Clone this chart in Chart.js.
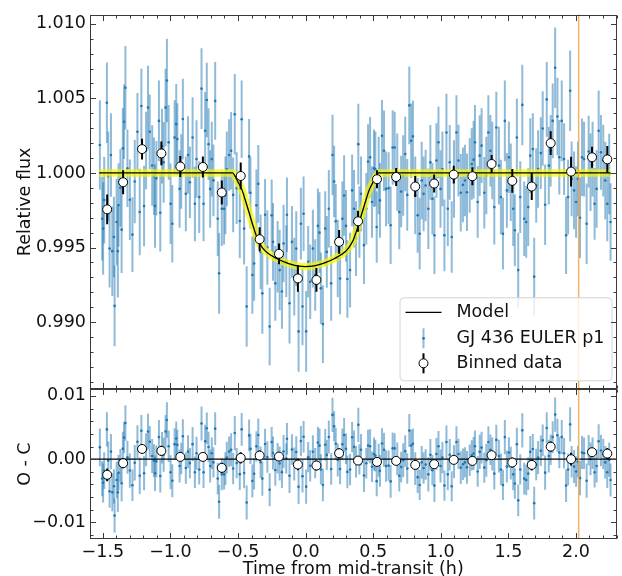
<!DOCTYPE html>
<html>
<head>
<meta charset="utf-8">
<title>GJ 436 EULER p1 transit</title>
<script src="https://cdn.jsdelivr.net/npm/chart.js@4.4.1/dist/chart.umd.min.js"></script>
<style>
  html, body { margin: 0; padding: 0; background: #fff; overflow: hidden; }
  canvas { display: block; }
</style>
</head>
<body>
<canvas id="lc" width="622" height="580"></canvas>
<script>
// light curve: hours from mid-transit, relative flux, 1-sigma error, residual (O - C)
const time = [
  -1.522,-1.505,-1.498,-1.490,-1.470,-1.460,-1.450,-1.440,-1.430,-1.418,
  -1.413,-1.398,-1.389,-1.384,-1.370,-1.361,-1.352,-1.343,-1.333,-1.318,
  -1.300,-1.281,-1.264,-1.244,-1.227,-1.215,-1.195,-1.180,-1.166,-1.153,
  -1.135,-1.122,-1.114,-1.104,-1.085,-1.075,-1.062,-1.050,-1.036,-1.026,
  -1.013,-0.999,-0.986,-0.969,-0.957,-0.949,-0.932,-0.920,-0.908,
  -0.886,-0.870,-0.856,-0.836,-0.819,-0.807,-0.787,-0.770,-0.755,-0.743,
  -0.731,-0.718,-0.706,-0.694,-0.682,-0.669,-0.650,-0.640,-0.620,-0.603,
  -0.593,-0.583,-0.566,-0.551,-0.536,-0.524,-0.510,-0.487,-0.473,-0.455,
  -0.436,-0.418,-0.408,-0.394,-0.381,-0.364,-0.350,-0.333,-0.320,-0.300,
  -0.283,-0.266,-0.251,
  -0.241,-0.224,-0.207,-0.192,-0.175,-0.163,-0.143,-0.138,-0.119,-0.101,
  -0.084,-0.069,-0.052,-0.035,-0.023,-0.015,0.004,0.019,0.034,0.054,
  0.071,0.091,0.103,0.113,0.128,0.145,0.157,0.172,0.189,0.199,
  0.211,0.223,0.238,0.255,0.272,0.285,0.299,0.309,0.329,0.344,
  0.358,0.373,0.390,
  0.398,0.410,0.432,0.449,0.462,0.477,0.491,0.506,0.516,0.526,
  0.541,0.550,0.565,0.580,0.595,0.614,0.629,0.644,0.659,0.678,
  0.693,0.707,0.722,0.737,0.752,0.767,0.781,0.794,0.811,0.829,
  0.844,0.859,0.873,0.888,0.908,0.923,0.938,0.953,0.968,0.983,
  0.998,1.012,1.027,1.042,1.052,
  1.066,1.081,1.098,1.116,1.131,1.148,1.164,1.179,1.194,1.214,
  1.229,1.243,1.253,1.273,1.288,1.302,1.322,1.337,1.352,1.367,
  1.381,1.396,1.411,1.430,1.445,1.460,1.474,1.489,1.504,1.518,
  1.536,1.548,1.563,1.573,1.588,1.603,1.617,1.632,1.647,1.662,
  1.681,1.691,
  1.706,1.720,1.740,1.754,1.772,1.784,1.799,1.813,1.828,1.846,
  1.863,1.877,1.895,1.912,1.927,1.942,1.957,1.968,1.986,2.001,
  2.015,2.030,2.045,2.060,2.079,2.094,2.108,2.123,2.138,2.153,
  2.168,2.185,2.202,2.217,2.232,2.246,2.256
];
const flux = [
  1.00187,0.99693,0.99627,0.99818,1.00471,0.99978,0.99493,1.00120,0.99476,0.99571,
  0.99109,0.99671,0.99476,0.99785,0.99900,0.99620,1.00165,1.00343,1.00571,1.00031,
  0.99820,0.99587,0.99943,1.00276,0.99738,1.00449,0.99778,1.00150,1.00438,1.00276,
  1.00050,0.99978,0.99778,0.99965,1.00349,0.99733,1.00180,1.00071,1.00438,1.00620,
  1.00205,0.99793,0.99660,1.00238,1.00327,1.00227,0.99893,1.00010,1.00362,
  0.99860,1.00120,0.99938,1.00238,0.99793,1.00093,0.99838,1.00565,0.99793,1.00283,
  1.00489,1.00193,0.99893,1.00093,0.99950,1.00483,0.99693,0.99327,0.99760,0.99760,
  0.99850,1.00027,1.00120,1.00149,0.99853,1.00393,0.99898,0.99678,1.00360,0.99627,
  0.99105,1.00111,0.99867,0.99316,0.99393,0.99783,0.99927,0.99471,0.99193,0.99720,
  0.99500,0.98971,0.99716,
  0.99538,0.99260,0.99438,0.99349,0.99205,0.99527,0.99409,0.99720,0.99127,0.99538,
  0.99305,0.99493,0.98938,0.99660,0.99105,0.99727,0.98938,0.99405,0.99271,0.99493,
  0.99316,0.99645,0.99600,0.99227,0.98987,0.99627,0.99471,0.99760,0.99260,1.00120,
  0.99943,0.99676,0.99427,0.99293,0.99693,0.99849,0.99645,0.99289,0.99349,0.99883,
  0.99760,0.99560,1.00193,
  0.99671,0.99860,0.99516,0.99760,1.00076,1.00105,0.99805,1.00031,1.00027,0.99638,
  0.99983,0.99816,1.00249,1.00149,0.99893,0.99898,0.99649,1.00171,1.00171,1.00005,
  0.99738,0.99876,0.99983,1.00127,0.99853,1.00453,1.00216,1.00245,0.99850,0.99716,
  0.99593,0.99949,0.99860,0.99916,0.99760,1.00071,0.99827,0.99582,1.00083,1.00205,
  0.99893,1.00027,0.99582,1.00271,0.99760,
  1.00071,0.99571,0.99960,1.00271,1.00083,0.99867,0.99920,0.99949,0.99871,0.99983,
  1.00060,1.00089,1.00205,0.99805,1.00116,1.00183,0.99867,0.99983,1.00271,1.00149,
  1.00083,0.99771,1.00305,1.00049,0.99838,0.99593,1.00349,0.99883,1.00105,0.99938,
  0.99760,0.99616,1.00238,0.99349,0.99838,1.00456,0.99693,0.99671,0.99771,1.00116,
  1.00160,0.99305,
  0.99916,1.00027,1.00133,1.00298,0.99787,1.00493,1.00049,1.00149,1.00349,1.00705,
  1.00378,1.00105,1.00349,1.00093,0.99582,0.99838,1.00551,0.99960,0.99883,0.99805,
  0.99960,0.99700,1.00105,1.00093,0.99660,1.00143,1.00005,1.00093,0.99793,0.99893,
  1.00283,1.00138,1.00083,0.99949,0.99793,0.99993,0.99671
];
const fluxErr = [
  0.0030,0.0028,0.0031,0.0029,0.0027,0.0030,0.0026,0.0028,0.0030,0.0027,
  0.0027,0.0029,0.0031,0.0028,0.0026,0.0029,0.0027,0.0025,0.0028,0.0026,
  0.0027,0.0025,0.0028,0.0026,0.0029,0.0025,0.0027,0.0026,0.0028,0.0025,
  0.0027,0.0026,0.0028,0.0025,0.0027,0.0026,0.0025,0.0027,0.0026,0.0028,
  0.0025,0.0027,0.0026,0.0025,0.0027,0.0024,0.0026,0.0025,0.0027,
  0.0025,0.0026,0.0024,0.0027,0.0025,0.0026,0.0024,0.0027,0.0025,0.0026,
  0.0025,0.0024,0.0026,0.0025,0.0024,0.0026,0.0025,0.0027,0.0025,0.0024,
  0.0026,0.0025,0.0024,0.0026,0.0025,0.0027,0.0024,0.0025,0.0026,0.0024,
  0.0027,0.0025,0.0024,0.0026,0.0025,0.0024,0.0026,0.0025,0.0027,0.0024,
  0.0025,0.0026,0.0024,
  0.0026,0.0025,0.0024,0.0027,0.0025,0.0026,0.0024,0.0025,0.0027,0.0024,
  0.0026,0.0025,0.0027,0.0024,0.0026,0.0025,0.0027,0.0024,0.0025,0.0026,
  0.0024,0.0025,0.0027,0.0024,0.0026,0.0025,0.0024,0.0026,0.0025,0.0027,
  0.0024,0.0025,0.0026,0.0024,0.0025,0.0027,0.0024,0.0026,0.0025,0.0024,
  0.0026,0.0025,0.0027,
  0.0024,0.0025,0.0026,0.0024,0.0025,0.0027,0.0024,0.0026,0.0025,0.0024,
  0.0026,0.0025,0.0024,0.0027,0.0025,0.0024,0.0026,0.0025,0.0024,0.0026,
  0.0025,0.0024,0.0027,0.0025,0.0024,0.0026,0.0025,0.0024,0.0026,0.0025,
  0.0024,0.0026,0.0025,0.0024,0.0027,0.0025,0.0024,0.0026,0.0025,0.0024,
  0.0026,0.0025,0.0024,0.0026,0.0025,
  0.0025,0.0024,0.0026,0.0025,0.0024,0.0026,0.0025,0.0024,0.0026,0.0025,
  0.0024,0.0026,0.0025,0.0024,0.0027,0.0025,0.0024,0.0026,0.0025,0.0024,
  0.0026,0.0025,0.0024,0.0026,0.0025,0.0024,0.0027,0.0025,0.0024,0.0026,
  0.0025,0.0024,0.0026,0.0025,0.0024,0.0027,0.0025,0.0024,0.0026,0.0025,
  0.0024,0.0026,
  0.0025,0.0026,0.0024,0.0025,0.0027,0.0025,0.0026,0.0024,0.0025,0.0027,
  0.0026,0.0025,0.0027,0.0024,0.0026,0.0025,0.0027,0.0025,0.0026,0.0024,
  0.0025,0.0027,0.0026,0.0025,0.0027,0.0024,0.0026,0.0025,0.0024,0.0026,
  0.0027,0.0025,0.0024,0.0026,0.0025,0.0027,0.0026
];
const resid = [
  0.00187,-0.00307,-0.00373,-0.00182,0.00471,-0.00022,-0.00507,0.00120,-0.00524,-0.00429,
  -0.00891,-0.00329,-0.00524,-0.00215,-0.00100,-0.00380,0.00165,0.00343,0.00571,0.00031,
  -0.00180,-0.00413,-0.00057,0.00276,-0.00262,0.00449,-0.00222,0.00150,0.00438,0.00276,
  0.00050,-0.00022,-0.00222,-0.00035,0.00349,-0.00267,0.00180,0.00071,0.00438,0.00620,
  0.00205,-0.00207,-0.00340,0.00238,0.00327,0.00227,-0.00107,0.00010,0.00362,
  -0.00140,0.00120,-0.00062,0.00238,-0.00207,0.00093,-0.00162,0.00565,-0.00207,0.00283,
  0.00489,0.00193,-0.00107,0.00093,-0.00050,0.00483,-0.00307,-0.00673,-0.00240,-0.00240,
  -0.00150,0.00027,0.00120,0.00149,-0.00147,0.00413,-0.00062,-0.00237,0.00472,-0.00218,
  -0.00685,0.00376,0.00163,-0.00346,-0.00230,0.00203,0.00382,-0.00049,-0.00307,0.00240,
  0.00034,-0.00484,0.00270,
  0.00098,-0.00172,0.00015,-0.00068,-0.00205,0.00122,0.00011,0.00324,-0.00263,0.00153,
  -0.00077,0.00114,-0.00437,0.00286,-0.00268,0.00355,-0.00434,0.00032,-0.00103,0.00118,
  -0.00063,0.00262,0.00214,-0.00162,-0.00407,0.00229,0.00068,0.00351,-0.00155,0.00700,
  0.00518,0.00244,-0.00012,-0.00155,0.00236,0.00383,0.00165,-0.00201,-0.00164,0.00348,
  0.00195,-0.00040,0.00543,
  -0.00004,0.00150,-0.00259,-0.00065,0.00216,0.00205,-0.00120,0.00081,0.00057,-0.00347,
  -0.00017,-0.00184,0.00249,0.00149,-0.00107,-0.00102,-0.00351,0.00171,0.00171,0.00005,
  -0.00262,-0.00124,-0.00017,0.00127,-0.00147,0.00453,0.00216,0.00245,-0.00150,-0.00284,
  -0.00407,-0.00051,-0.00140,-0.00084,-0.00240,0.00071,-0.00173,-0.00418,0.00083,0.00205,
  -0.00107,0.00027,-0.00418,0.00271,-0.00240,
  0.00071,-0.00429,-0.00040,0.00271,0.00083,-0.00133,-0.00080,-0.00051,-0.00129,-0.00017,
  0.00060,0.00089,0.00205,-0.00195,0.00116,0.00183,-0.00133,-0.00017,0.00271,0.00149,
  0.00083,-0.00229,0.00305,0.00049,-0.00162,-0.00407,0.00349,-0.00117,0.00105,-0.00062,
  -0.00240,-0.00384,0.00238,-0.00651,-0.00162,0.00456,-0.00307,-0.00329,-0.00229,0.00116,
  0.00160,-0.00695,
  -0.00084,0.00027,0.00133,0.00298,-0.00213,0.00493,0.00049,0.00149,0.00349,0.00705,
  0.00378,0.00105,0.00349,0.00093,-0.00418,-0.00162,0.00551,-0.00040,-0.00117,-0.00195,
  -0.00040,-0.00300,0.00105,0.00093,-0.00340,0.00143,0.00005,0.00093,-0.00207,-0.00107,
  0.00283,0.00138,0.00083,-0.00051,-0.00207,-0.00007,-0.00329
];

// binned light curve
const binTime = [-1.468,-1.350,-1.210,-1.067,-0.927,-0.760,-0.620,-0.480,-0.340,-0.197,-0.057,0.080,0.248,0.388,
                 0.528,0.670,0.811,0.951,1.096,1.234,1.376,1.529,1.673,1.813,1.964,2.119,2.232];
const binFlux = [0.99756,0.99938,1.00160,1.00131,1.00043,1.00040,0.99869,0.99980,0.99556,0.99458,0.99293,0.99283,0.99538,0.99676,
                 0.99958,0.99973,0.99909,0.99929,0.99989,0.99978,1.00060,0.99947,0.99909,1.00200,1.00009,1.00105,1.00091];
const binResid = [-0.00247,-0.00063,0.00162,0.00131,0.00036,0.00036,-0.00137,0.00020,0.00057,0.00041,-0.00085,-0.00100,0.00094,-0.00022,
                  -0.00043,-0.00027,-0.00090,-0.00079,-0.00011,-0.00027,0.00063,-0.00053,-0.00090,0.00198,0.00000,0.00110,0.00088];
const binErr = [0.0010,0.0008,0.0007,0.0008,0.0007,0.0007,0.0008,0.0009,0.0008,0.0007,0.0009,0.0008,0.0008,0.0007,
                0.0006,0.0006,0.0007,0.0006,0.0006,0.0006,0.0006,0.0008,0.0009,0.0008,0.0010,0.0007,0.0009];

// transit model
const modelTime = [-1.527,-0.540,-0.520,-0.500,-0.470,-0.440,-0.410,-0.380,-0.350,-0.320,-0.290,-0.250,-0.200,-0.150,-0.100,-0.050,
                   0.000,0.050,0.100,0.150,0.200,0.250,0.290,0.320,0.350,0.380,0.410,0.440,0.470,0.500,0.520,0.540,2.256];
const modelFlux = [1.00000,1.00000,0.99975,0.99940,0.99885,0.99800,0.99710,0.99620,0.99545,0.99500,0.99470,0.99445,0.99420,0.99400,0.99385,0.99375,
                   0.99372,0.99375,0.99385,0.99400,0.99420,0.99445,0.99470,0.99500,0.99545,0.99620,0.99710,0.99800,0.99885,0.99940,0.99975,1.00000,1.00000];

// axis ticks
const xTicks = [-1.5, -1.0, -0.5, 0.0, 0.5, 1.0, 1.5, 2.0];
const fluxTicks = [0.990, 0.995, 1.000, 1.005, 1.010];
const residTicks = [-0.01, 0.00, 0.01];

const markerTime = 2.02;

const FONT = { family: "'DejaVu Sans', sans-serif", size: 17.5 };
const INK = '#111';
const BLUE = '#1f77b4';
const BAR = 'rgba(31,119,180,0.5)';

const pts = (xs, ys) => xs.map((x, i) => ({ x: x, y: ys[i] }));
const minus = s => s.replace('-', '\u2212');
const fixTicks = list => s => { s.ticks = list.map(v => ({ value: v })); };

const rawTop = {
  label: 'GJ 436 EULER p1', type: 'scatter', yAxisID: 'yTop', order: 3,
  data: pts(time, flux), errors: fluxErr, errorColor: BAR, errorWidth: 2,
  pointRadius: 1.3, pointBackgroundColor: BLUE, pointBorderWidth: 0
};
const bandTop = {
  label: 'band', type: 'line', yAxisID: 'yTop', order: 2,
  data: pts(modelTime, modelFlux), borderColor: 'rgba(245,245,10,0.72)', borderWidth: 7.5,
  pointRadius: 0, cubicInterpolationMode: 'monotone', borderJoinStyle: 'round'
};
const modelTop = {
  label: 'Model', type: 'line', yAxisID: 'yTop', order: 1,
  data: pts(modelTime, modelFlux), borderColor: '#000', borderWidth: 1.3,
  pointRadius: 0, cubicInterpolationMode: 'monotone'
};
const binTop = {
  label: 'Binned data', type: 'scatter', yAxisID: 'yTop', order: 0,
  data: pts(binTime, binFlux), errors: binErr, errorColor: '#000', errorWidth: 2,
  pointRadius: 4.5, pointBackgroundColor: '#fff', pointBorderColor: '#000', pointBorderWidth: 1
};
const rawBot = {
  label: 'resid', type: 'scatter', yAxisID: 'yBot', order: 3, baseline: 0,
  data: pts(time, resid), errors: fluxErr, errorColor: BAR, errorWidth: 2,
  pointRadius: 1.3, pointBackgroundColor: BLUE, pointBorderWidth: 0
};
const binBot = {
  label: 'binned resid', type: 'scatter', yAxisID: 'yBot', order: 0,
  data: pts(binTime, binResid), errors: binErr, errorColor: '#000', errorWidth: 2,
  pointRadius: 4.5, pointBackgroundColor: '#fff', pointBorderColor: '#000', pointBorderWidth: 1
};

// vertical error bars, drawn under each dataset's own points
const errorBars = {
  id: 'errorBars',
  beforeDatasetDraw(chart, args) {
    const ds = chart.data.datasets[args.index];
    if (!ds.errors) return;
    const ctx = chart.ctx, xs = chart.scales.x, ys = chart.scales[ds.yAxisID], a = chart.chartArea;
    ctx.save();
    ctx.beginPath();
    ctx.rect(a.left, ys.top, a.right - a.left, ys.bottom - ys.top);
    ctx.clip();
    ctx.strokeStyle = ds.errorColor;
    ctx.lineWidth = ds.errorWidth;
    ds.data.forEach((p, i) => {
      const px = xs.getPixelForValue(p.x);
      ctx.beginPath();
      ctx.moveTo(px, ys.getPixelForValue(p.y - ds.errors[i]));
      ctx.lineTo(px, ys.getPixelForValue(p.y + ds.errors[i]));
      ctx.stroke();
    });
    ctx.restore();
  },
  afterDatasetDraw(chart, args) {
    const ds = chart.data.datasets[args.index];
    if (ds.baseline === undefined) return;
    const ctx = chart.ctx, a = chart.chartArea;
    const py = chart.scales[ds.yAxisID].getPixelForValue(ds.baseline);
    ctx.save();
    ctx.strokeStyle = '#000';
    ctx.lineWidth = 1.3;
    ctx.beginPath();
    ctx.moveTo(a.left, py);
    ctx.lineTo(a.right, py);
    ctx.stroke();
    ctx.restore();
  }
};

function drawLegend(chart) {
  const ctx = chart.ctx, a = chart.chartArea, yt = chart.scales.yTop;
  const w = 212, h = 83;
  const x0 = a.right - 5 - w, y0 = yt.bottom - 9 - h;
  ctx.save();
  ctx.beginPath();
  ctx.roundRect(x0 + 0.5, y0 + 0.5, w, h, 4);
  ctx.fillStyle = 'rgba(255,255,255,0.8)';
  ctx.fill();
  ctx.strokeStyle = '#d4d4d4';
  ctx.lineWidth = 1;
  ctx.stroke();

  const hx = x0 + 24;
  const rows = [y0 + 15, y0 + 41, y0 + 66];
  // Model
  ctx.strokeStyle = '#000';
  ctx.lineWidth = 1.3;
  ctx.beginPath();
  ctx.moveTo(x0 + 6, rows[0]);
  ctx.lineTo(x0 + 42, rows[0]);
  ctx.stroke();
  // raw points
  ctx.strokeStyle = BAR;
  ctx.lineWidth = 2;
  ctx.beginPath();
  ctx.moveTo(hx, rows[1] - 10);
  ctx.lineTo(hx, rows[1] + 10);
  ctx.stroke();
  ctx.fillStyle = BLUE;
  ctx.beginPath();
  ctx.arc(hx, rows[1], 1.4, 0, Math.PI * 2);
  ctx.fill();
  // binned
  ctx.strokeStyle = '#000';
  ctx.beginPath();
  ctx.moveTo(hx, rows[2] - 10);
  ctx.lineTo(hx, rows[2] + 10);
  ctx.stroke();
  ctx.beginPath();
  ctx.arc(hx, rows[2], 4.5, 0, Math.PI * 2);
  ctx.fillStyle = '#fff';
  ctx.fill();
  ctx.lineWidth = 1;
  ctx.stroke();

  ctx.fillStyle = INK;
  ctx.font = FONT.size + 'px ' + FONT.family;
  ctx.textBaseline = 'middle';
  ctx.textAlign = 'left';
  [modelTop.label, rawTop.label, binTop.label].forEach((t, i) => ctx.fillText(t, x0 + 57, rows[i]));
  ctx.restore();
}

// panel frames with inward major/minor ticks on every side
function drawFrames(chart) {
  const ctx = chart.ctx, a = chart.chartArea;
  const xs = chart.scales.x;
  const panels = [[chart.scales.yTop, 0.001], [chart.scales.yBot, 0.002]];
  ctx.save();
  ctx.strokeStyle = '#3a3a3a';
  ctx.lineWidth = 1;
  const L = Math.round(a.left) + 0.5, R = Math.round(a.right) - 0.5;
  panels.forEach(([ys, minorStep]) => {
    const T = Math.round(ys.top) + 0.5, B = Math.round(ys.bottom) - 0.5;
    ctx.strokeRect(L, T, R - L, B - T);
    ctx.beginPath();
    for (let k = Math.ceil(xs.min / 0.1 - 1e-9); k * 0.1 <= xs.max + 1e-9; k++) {
      const len = k % 5 === 0 ? 5.5 : 3;
      const px = Math.round(xs.getPixelForValue(k * 0.1)) + 0.5;
      ctx.moveTo(px, T); ctx.lineTo(px, T + len);
      ctx.moveTo(px, B); ctx.lineTo(px, B - len);
    }
    for (let k = Math.ceil(ys.min / minorStep - 1e-9); k * minorStep <= ys.max + 1e-12; k++) {
      const len = k % 5 === 0 ? 5.5 : 3;
      const py = Math.round(ys.getPixelForValue(k * minorStep)) + 0.5;
      ctx.moveTo(L, py); ctx.lineTo(L + len, py);
      ctx.moveTo(R, py); ctx.lineTo(R - len, py);
    }
    ctx.stroke();
  });
  ctx.restore();
}

const overlay = {
  id: 'overlay',
  afterDatasetsDraw(chart) {
    const ctx = chart.ctx, a = chart.chartArea;
    const px = chart.scales.x.getPixelForValue(markerTime);
    ctx.save();
    ctx.strokeStyle = 'rgba(240,160,60,0.8)';
    ctx.lineWidth = 1.5;
    ctx.beginPath();
    ctx.moveTo(px, a.top);
    ctx.lineTo(px, a.bottom);
    ctx.stroke();
    ctx.restore();
  },
  afterDraw(chart) {
    drawLegend(chart);
    drawFrames(chart);
  }
};

const tickFont = { family: FONT.family, size: FONT.size };

new Chart(document.getElementById('lc'), {
  type: 'scatter',
  data: { datasets: [binTop, modelTop, bandTop, rawTop, binBot, rawBot] },
  options: {
    responsive: false,
    animation: false,
    devicePixelRatio: 1,
    events: [],
    layout: { padding: { top: 11, right: 5, left: 0, bottom: 0 } },
    plugins: { legend: { display: false }, tooltip: { enabled: false } },
    scales: {
      x: {
        type: 'linear', bounds: 'data', min: -1.595, max: 2.3,
        grid: { display: false, drawTicks: false }, border: { display: false },
        ticks: { padding: 3, color: INK, font: tickFont, callback: v => minus(v.toFixed(1)) },
        afterBuildTicks: fixTicks(xTicks),
        title: { display: true, text: 'Time from mid-transit (h)', color: INK, font: tickFont, padding: { top: 0, bottom: 0 } },
        afterFit: s => { s.height = 41; }
      },
      yBot: {
        type: 'linear', position: 'left', stack: 'panels', stackWeight: 150.7, bounds: 'data',
        min: -0.01262, max: 0.01105,
        grid: { display: false, drawTicks: false }, border: { display: false },
        ticks: { padding: 4, color: INK, font: tickFont, callback: v => minus(v.toFixed(2)) },
        afterBuildTicks: fixTicks(residTicks),
        title: { display: true, text: 'O - C', color: INK, font: tickFont, padding: { top: 15, bottom: 0 } },
        afterFit: s => { s.width = 90; }
      },
      yTop: {
        type: 'linear', position: 'left', stack: 'panels', stackWeight: 377.3, bounds: 'data',
        min: 0.9855, max: 1.01062,
        grid: { display: false, drawTicks: false }, border: { display: false },
        ticks: { padding: 4, color: INK, font: tickFont, callback: v => v.toFixed(3) },
        afterBuildTicks: fixTicks(fluxTicks),
        title: { display: true, text: 'Relative flux', color: INK, font: tickFont, padding: { top: 15, bottom: 0 } },
        afterFit: s => { s.width = 90; }
      }
    }
  },
  plugins: [errorBars, overlay]
});
</script>
</body>
</html>
